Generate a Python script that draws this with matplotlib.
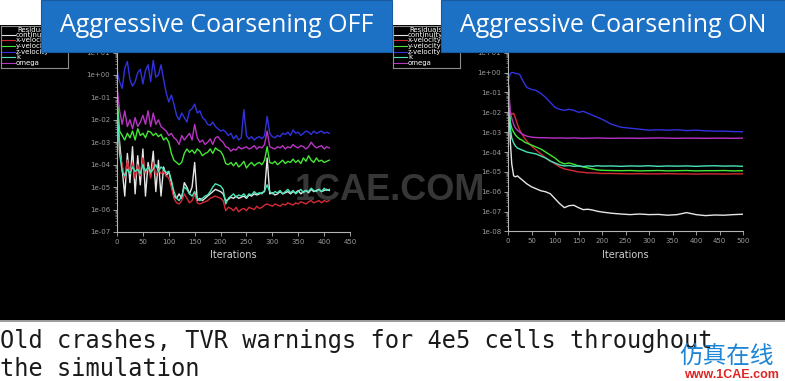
import numpy as np
import matplotlib
matplotlib.use('Agg')
import matplotlib.pyplot as plt
import matplotlib.ticker as mticker
from matplotlib.patches import Rectangle
from matplotlib.lines import Line2D

W, H = 785, 381

# residual histories, stored as log10(residual)
series_names = ['continuity', 'x-velocity', 'y-velocity', 'z-velocity', 'k', 'omega']
series_colors = ['#e6e6e6', '#d42a36', '#44e636', '#3232e0', '#48e6b8', '#b834c4']

off_iter = np.arange(0, 411, 5)
off_continuity = [-1.5, -3.0, -4.2, -5.4, -3.5, -4.8, -3.2, -5.3, -3.6, -4.9,
                  -3.3, -5.4, -3.9, -4.5, -3.4, -5.2, -3.8, -5.4, -4.1, -4.5,
                  -4.3, -4.8, -5.4, -5.5, -5.3, -5.5, -4.8, -5.0, -5.3, -5.0,
                  -3.9, -5.6, -5.5, -5.6, -5.5, -5.4, -5.3, -5.2, -5.1, -5.15,
                  -5.2, -5.3, -5.6, -5.55, -5.45, -5.5, -5.4, -5.5, -5.45, -5.4,
                  -5.5, -5.35, -5.4, -5.3, -5.35, -5.3, -5.25, -5.2, -3.7, -5.3,
                  -5.25, -5.35, -5.3, -5.2, -5.3, -5.25, -5.2, -5.3, -5.2, -5.25,
                  -5.15, -5.3, -5.2, -5.15, -5.25, -5.1, -5.2, -5.15, -5.1, -5.2,
                  -5.15, -5.1, -5.15]
off_xvel = [-1.0, -3.5, -4.0, -4.6, -3.8, -4.4, -3.9, -4.6, -4.0, -4.5,
            -3.7, -4.4, -4.1, -4.6, -3.9, -4.5, -4.2, -4.4, -4.3, -4.5,
            -4.6, -5.0, -5.5, -5.7, -5.75, -5.6, -5.3, -5.5, -5.7, -5.6,
            -5.3, -5.7, -5.75, -5.7, -5.65, -5.6, -5.5, -5.45, -5.4, -5.45,
            -5.5, -5.6, -6.05, -5.9, -5.95, -6.05, -5.9, -6.1, -6.0, -5.95,
            -6.05, -5.9, -5.95, -6.0, -5.85, -5.95, -5.9, -5.8, -5.75, -5.8,
            -5.85, -5.75, -5.8, -5.85, -5.75, -5.8, -5.7, -5.75, -5.8, -5.7,
            -5.75, -5.65, -5.7, -5.75, -5.65, -5.6, -5.7, -5.65, -5.6, -5.7,
            -5.6, -5.65, -5.6]
off_yvel = [-0.8, -2.5, -2.7, -2.9, -2.6, -2.8, -2.5, -2.9, -2.4, -2.7,
            -2.6, -2.8, -2.5, -2.55, -2.7, -2.6, -2.75, -2.65, -2.9, -2.8,
            -3.0, -3.5, -3.8, -3.9, -4.0, -3.9, -3.5, -3.3, -3.45, -3.35,
            -3.5, -3.3, -3.4, -3.6, -3.5, -3.45, -3.3, -3.5, -3.25, -3.35,
            -3.4, -3.6, -3.95, -4.0, -3.9, -4.05, -3.9, -4.1, -4.0, -3.85,
            -4.15, -4.0, -3.9, -4.05, -3.95, -3.9, -4.0, -3.8, -3.2, -3.9,
            -3.95, -3.85, -4.0, -3.9, -3.8, -3.95, -3.85, -3.9, -3.75, -3.9,
            -3.8, -3.95, -3.7, -3.85, -3.6, -3.8, -3.9, -3.7, -3.85, -3.8,
            -3.9, -3.85, -3.8]
off_zvel = [0.2, -0.3, -0.6, 0.3, 0.6, -0.2, -0.5, -0.3, 0.1, 0.25,
            -0.4, 0.2, 0.45, -0.3, 0.65, -0.1, 0.0, 0.45, -0.2, -0.8,
            -1.2, -0.9, -1.3, -1.8, -2.0, -1.7, -1.9, -2.1, -1.6, -1.5,
            -1.3, -1.7, -1.6, -1.9, -2.0, -2.2, -2.25, -2.1, -2.3, -2.4,
            -2.5, -2.45, -2.55, -2.7, -2.6, -2.85, -2.7, -2.9, -2.8, -1.55,
            -2.7, -2.85, -2.75, -2.9, -2.8, -2.75, -2.85, -2.7, -1.85, -2.6,
            -2.75, -2.8, -2.7, -2.75, -2.6, -2.65, -2.55, -2.7, -2.45, -2.6,
            -2.55, -2.7, -2.6, -2.5, -2.55, -2.65, -2.5, -2.6, -2.55, -2.5,
            -2.6, -2.55, -2.6]
off_k = [-1.2, -3.5, -4.3, -4.5, -4.2, -4.4, -4.1, -4.3, -4.2, -4.4,
         -4.0, -4.3, -4.1, -4.35, -4.2, -4.0, -4.3, -4.1, -4.2, -4.35,
         -4.3, -4.7, -5.2, -5.5, -5.6, -5.4, -5.0, -5.1, -5.3, -5.4,
         -5.2, -5.5, -5.6, -5.5, -5.4, -5.35, -5.2, -5.0, -4.85, -4.9,
         -4.95, -5.1, -5.75, -5.5, -5.4, -5.3, -5.45, -5.35, -5.4, -5.3,
         -5.45, -5.3, -5.35, -5.2, -5.3, -5.25, -5.3, -5.15, -4.9, -5.2,
         -5.3, -5.2, -5.25, -5.15, -5.3, -5.2, -5.1, -5.25, -5.15, -5.3,
         -5.2, -5.1, -5.25, -5.15, -5.2, -5.05, -5.15, -5.2, -5.1, -5.2,
         -5.05, -5.15, -5.1]
off_omega = [-0.5, -1.6, -2.2, -1.6, -2.3, -2.0, -2.4, -1.9, -2.3, -2.1,
             -1.8, -2.2, -1.6, -2.3, -1.7, -2.2, -2.0, -2.3, -2.4, -2.5,
             -2.7, -2.6, -2.8, -2.9, -3.1, -2.7, -2.9, -2.75, -2.6, -2.9,
             -2.2, -2.8, -3.0, -2.9, -3.1, -3.0, -2.85, -3.1, -2.8, -2.75,
             -2.9, -3.0, -3.2, -3.25, -3.4, -3.3, -3.35, -3.2, -3.3, -3.25,
             -3.2, -3.3, -3.25, -3.15, -3.3, -3.2, -3.25, -3.1, -2.5, -3.2,
             -3.25, -3.3, -3.2, -3.25, -3.15, -3.3, -3.2, -3.25, -3.1, -3.2,
             -3.25, -3.15, -3.2, -3.3, -3.2, -3.0, -3.15, -3.25, -3.2, -3.15,
             -3.3, -3.2, -3.25]

on_iter = [0, 2, 5, 8, 12, 16, 20, 25, 30, 35, 40, 50, 60, 70, 80, 90, 100, 110, 120, 130,
           140, 150, 160, 170, 180, 190, 200, 220, 240, 260, 280, 300, 320, 340, 360, 380,
           400, 420, 440, 460, 480, 500]
on_continuity = [-0.1, -1.5, -3.5, -4.6, -5.2, -5.25, -5.2, -5.3, -5.4, -5.5, -5.6, -5.75,
                 -5.85, -5.95, -6.0, -6.1, -6.35, -6.6, -6.8, -6.7, -6.68, -6.8, -6.9, -6.88,
                 -6.92, -6.98, -7.02, -7.08, -7.12, -7.15, -7.12, -7.15, -7.14, -7.18, -7.15,
                 -7.05, -7.15, -7.2, -7.17, -7.18, -7.15, -7.13]
on_xvel = [-1.0, -1.8, -2.0, -2.1, -2.05, -2.3, -2.6, -2.9, -3.1, -3.3, -3.45, -3.7, -3.9,
           -4.1, -4.3, -4.45, -4.6, -4.75, -4.85, -4.9, -4.95, -5.0, -5.02, -5.05, -5.05,
           -5.06, -5.08, -5.08, -5.09, -5.1, -5.09, -5.1, -5.1, -5.09, -5.1, -5.1, -5.11,
           -5.1, -5.1, -5.11, -5.1, -5.1]
on_yvel = [-0.2, -1.2, -2.5, -2.8, -3.0, -3.15, -3.25, -3.35, -3.4, -3.5, -3.55, -3.65,
           -3.75, -3.85, -4.0, -4.15, -4.3, -4.5, -4.6, -4.55, -4.62, -4.7, -4.75, -4.8,
           -4.85, -4.9, -4.92, -4.93, -4.94, -4.93, -4.95, -4.94, -4.93, -4.95, -4.94,
           -4.93, -4.95, -4.94, -4.94, -4.93, -4.95, -4.94]
on_zvel = [-0.6, -0.3, -0.05, 0.0, 0.0, -0.05, -0.05, -0.1, -0.35, -0.55, -0.75, -0.85,
           -0.9, -1.05, -1.25, -1.5, -1.75, -1.85, -1.9, -1.85, -1.9, -2.0, -1.95, -2.05,
           -2.15, -2.25, -2.35, -2.6, -2.75, -2.8, -2.85, -2.9, -2.88, -2.9, -2.88, -2.92,
           -2.9, -2.93, -2.95, -2.95, -2.97, -2.98]
on_k = [-0.5, -1.5, -2.8, -3.3, -3.55, -3.7, -3.8, -3.85, -3.9, -3.95, -4.0, -4.05, -4.1,
        -4.2, -4.3, -4.45, -4.55, -4.65, -4.7, -4.68, -4.72, -4.7, -4.73, -4.7, -4.72,
        -4.69, -4.71, -4.7, -4.72, -4.7, -4.71, -4.69, -4.72, -4.7, -4.71, -4.7, -4.72,
        -4.7, -4.69, -4.71, -4.7, -4.72]
on_omega = [-0.3, -1.0, -2.0, -2.3, -2.6, -2.8, -2.9, -3.0, -3.1, -3.15, -3.2, -3.25,
            -3.27, -3.28, -3.28, -3.29, -3.3, -3.29, -3.3, -3.3, -3.29, -3.3, -3.31, -3.3,
            -3.3, -3.29, -3.3, -3.31, -3.3, -3.3, -3.31, -3.3, -3.29, -3.3, -3.31, -3.3,
            -3.3, -3.31, -3.3, -3.3, -3.31, -3.3]

titles = ['Aggressive Coarsening OFF', 'Aggressive Coarsening ON']
off_xticks = [0, 50, 100, 150, 200, 250, 300, 350, 400, 450]
on_xticks = [0, 50, 100, 150, 200, 250, 300, 350, 400, 450, 500]
caption_lines = ['Old crashes, TVR warnings for 4e5 cells throughout', 'the simulation']


def box(x0, y0, x1, y1):
    # pixel box (top-left origin) -> figure fraction rect
    return [x0 / W, 1 - y1 / H, (x1 - x0) / W, (y1 - y0) / H]


fig = plt.figure(figsize=(W / 100, H / 100), dpi=100, facecolor='white')

# black screen area and its bottom border
fig.add_artist(Rectangle((0, 1 - 320 / H), 1, 295 / H, transform=fig.transFigure,
                         facecolor='black', edgecolor='none', zorder=-10))
fig.add_artist(Line2D([0, 1], [1 - 320.5 / H] * 2, transform=fig.transFigure,
                      color='#8a8a8a', lw=1.2, zorder=-9))

# watermark sits behind the residual lines
fig.text(390 / W, 1 - 190 / H, '1CAE.COM', color='#363636', fontsize=26,
         family='Liberation Sans', weight='bold', ha='center', va='center', zorder=-5)


def residual_axes(rect, iters, data, xmax, ymin, xticks):
    ax = fig.add_axes(rect, zorder=0)
    ax.patch.set_alpha(0)
    for vals, c in zip(data, series_colors):
        ax.plot(iters, np.power(10.0, vals), color=c, lw=1.0)
    ax.set_yscale('log')
    ax.set_xlim(0, xmax)
    ax.set_ylim(ymin, 1e1)
    ax.set_xticks(xticks)
    ax.yaxis.set_major_locator(mticker.LogLocator(base=10, numticks=20))
    ax.yaxis.set_major_formatter(mticker.FuncFormatter(lambda v, p: '%.0e' % v))
    ax.yaxis.set_minor_locator(mticker.LogLocator(base=10, subs=np.arange(2, 10), numticks=20))
    ax.yaxis.set_minor_formatter(mticker.NullFormatter())
    for s in ['top', 'right']:
        ax.spines[s].set_visible(False)
    for s in ['left', 'bottom']:
        ax.spines[s].set_color('#b4b4b4')
        ax.spines[s].set_linewidth(0.8)
    ax.tick_params(which='major', colors='#b4b4b4', labelcolor='#9a9a9a', labelsize=5,
                   length=3, width=0.6, pad=2)
    ax.tick_params(which='minor', colors='#b4b4b4', length=1.5, width=0.4)
    ax.set_xlabel('Iterations', color='#cfcfcf', fontsize=7, labelpad=4)
    return ax


residual_axes(box(117, 52.5, 350, 232), off_iter,
              [off_continuity, off_xvel, off_yvel, off_zvel, off_k, off_omega],
              450, 1e-7, off_xticks)
residual_axes(box(508, 52.7, 743, 231.5), on_iter,
              [on_continuity, on_xvel, on_yvel, on_zvel, on_k, on_omega],
              500, 1e-8, on_xticks)

# Fluent style legends (partly hidden by the title boxes)
for lx in [0, 392]:
    lg = fig.add_axes(box(lx + 0.5, 26, lx + 68, 67.5), facecolor='black', zorder=1)
    lg.set_xticks([])
    lg.set_yticks([])
    for s in lg.spines.values():
        s.set_color('#8c8c8c')
        s.set_linewidth(0.8)
    lg.set_xlim(0, 68)
    lg.set_ylim(41.5, 0)
    lg.text(17, 3.5, 'Residuals', color='white', fontsize=5, va='center')
    for i, (name, c) in enumerate(zip(series_names, series_colors)):
        yy = 8.8 + i * 5.6
        lg.plot([2, 15], [yy, yy], color=c, lw=0.8)
        lg.text(15.5, yy, name, color='white', fontsize=5, va='center')

# blue title boxes
for (x0, x1), t in zip([(41, 392), (441, 785)], titles):
    fig.add_artist(Rectangle((x0 / W, 1 - 52 / H), (x1 - x0) / W, 52 / H,
                             transform=fig.transFigure, facecolor='#1d71c4',
                             edgecolor='#175aa0', lw=0.8, zorder=5))
    fig.text((x0 + x1) / 2 / W, 1 - 26 / H, t, color='white', fontsize=18,
             family='Open Sans', ha='center', va='center', zorder=6)

# caption
for i, line in enumerate(caption_lines):
    fig.text(0, 1 - (348 + 28 * i) / H, line, color='#1a1a1a', fontsize=17,
             family='DejaVu Sans Mono', ha='left', va='baseline', zorder=4)

# site watermark bottom right
fig.text(726 / W, 1 - 356 / H, '仿真在线', color='#1e86d6', fontsize=17,
         family=['Noto Sans CJK SC', 'DejaVu Sans'], ha='center', va='center', zorder=5)
fig.text(731 / W, 1 - 375.5 / H, 'www.1CAE.com', color='#e02424', fontsize=9,
         family='Liberation Sans', weight='bold', ha='center', va='center', zorder=5)

fig.savefig('out.png', dpi=100, facecolor='white')
